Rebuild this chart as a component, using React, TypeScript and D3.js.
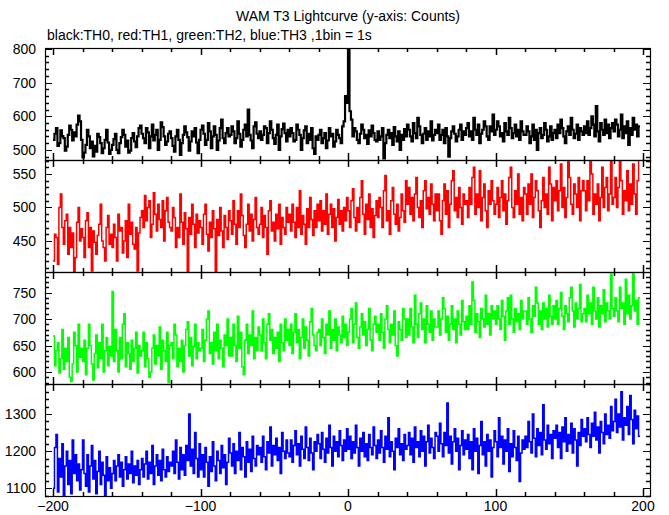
import React from "react";
import * as d3 from "d3";

const title = "WAM T3 Lightcurve (y-axis: Counts)";
const subtitle = "black:TH0, red:TH1, green:TH2, blue:TH3 ,1bin = 1s";
const startTime = -200;
const xTickValues = [-200, -100, 0, 100, 200];

const th0 = [
530,548,565,512,520,558,541,535,498,510,545,572,560,528,552,540,575,602,585,530,
478,492,515,560,540,505,525,481,512,495,548,538,520,490,505,530,560,522,488,500,
515,532,548,500,490,520,538,560,545,510,528,492,498,535,550,525,508,540,565,572,
548,535,520,565,552,505,540,575,528,545,560,500,530,582,568,540,515,525,548,555,
535,512,495,540,560,530,485,520,545,570,552,538,498,525,555,540,565,522,490,530,
560,572,548,515,530,580,555,505,540,570,545,500,528,565,590,535,520,550,565,540,
545,570,555,520,535,585,548,510,530,560,575,540,620,545,528,505,570,582,548,535,
555,530,545,570,565,520,550,585,560,535,518,545,575,500,540,562,578,550,525,560,
540,565,550,525,530,575,560,545,500,535,558,570,520,548,530,565,505,488,540,530,
545,560,520,535,550,505,528,565,540,548,510,525,560,545,535,520,570,585,660,640,
820,615,590,540,565,555,530,520,548,575,560,535,545,518,558,540,572,550,530,525,
555,530,540,565,475,520,545,560,535,550,515,568,540,525,555,500,545,530,562,540,
575,560,540,525,580,550,535,595,570,545,520,548,565,530,555,540,585,528,545,560,
550,575,530,545,560,520,565,540,480,535,555,570,548,525,540,560,575,530,555,545,
565,580,540,555,530,595,560,545,575,520,548,560,585,570,540,530,570,555,605,545,
560,585,570,540,550,525,580,555,545,595,565,535,550,575,540,560,530,585,555,545,
545,570,555,520,540,575,530,560,500,550,565,535,545,580,560,525,540,570,530,550,
560,535,575,550,590,565,540,520,555,570,545,595,560,535,548,575,530,565,555,545,
570,550,585,545,565,600,575,540,630,555,525,580,560,545,590,550,575,535,565,580,
555,590,575,540,560,605,535,570,550,585,515,565,545,595,560,575,540,570
];

const th1 = [
420,460,455,415,500,520,470,445,480,490,430,470,440,462,398,425,478,500,450,468,
455,425,480,492,440,470,405,465,448,430,458,475,505,450,440,420,470,488,445,460,
440,475,455,420,490,465,470,432,450,480,425,505,460,478,445,438,470,405,462,485,
495,470,518,480,500,510,455,475,522,490,465,505,482,470,510,450,495,515,478,470,
465,500,485,440,470,455,520,478,445,492,468,398,485,460,505,475,440,490,462,480,
470,445,490,505,460,435,478,455,495,468,398,482,458,500,465,440,488,470,452,495,
480,460,510,475,445,495,470,520,488,458,440,475,505,465,490,450,482,515,470,460,
475,500,455,488,470,430,495,510,465,478,450,490,468,505,445,485,470,460,500,478,
490,465,505,478,455,500,470,525,460,488,475,445,498,470,515,482,458,495,470,505,
480,510,465,495,475,520,460,490,505,470,498,450,485,512,475,495,465,500,480,515,
495,470,510,528,485,465,500,478,515,540,490,460,505,482,520,470,498,455,488,510,
485,515,500,470,525,548,480,495,460,510,530,490,475,505,465,485,520,495,478,540,
505,530,490,515,480,520,545,500,485,510,470,525,540,498,515,490,535,505,480,520,
495,520,480,460,510,535,490,525,470,505,540,555,495,515,485,530,500,475,520,505,
510,485,530,505,545,560,490,520,500,555,480,515,535,495,470,525,505,540,510,490,
505,530,485,515,540,495,520,475,510,545,560,500,485,525,505,550,490,515,480,530,
520,490,535,505,550,485,515,540,525,495,470,510,545,500,520,490,560,535,480,530,
510,540,495,525,565,500,530,485,515,575,545,505,490,535,520,500,545,480,525,540,
525,495,540,510,575,550,490,520,505,535,480,515,560,500,530,545,495,520,575,505,
515,545,500,530,575,540,490,525,510,555,495,535,505,565,520,490,540,575
];

const th2 = [
668,612,640,655,598,625,680,605,645,620,665,590,582,615,675,650,600,690,628,645,
620,660,595,645,690,650,615,585,635,670,608,655,625,690,600,640,665,612,648,630,
752,620,680,640,600,665,625,690,710,610,655,635,605,660,620,645,675,598,650,630,
640,675,610,655,625,590,600,645,670,615,650,630,685,605,660,640,620,675,580,650,
655,625,690,670,610,645,620,660,600,650,680,695,630,665,612,648,690,625,655,640,
645,680,620,660,700,715,635,655,615,675,640,690,625,660,645,610,670,650,700,630,
665,630,690,650,620,705,645,675,610,595,660,690,635,670,650,715,625,665,640,685,
670,640,700,655,625,690,710,660,680,635,665,645,675,620,690,655,640,700,660,680,
650,690,635,675,710,655,680,625,665,700,645,685,660,630,695,720,670,650,640,675,
680,650,700,665,635,690,670,715,645,680,660,700,640,685,670,655,705,665,690,650,
675,700,720,655,690,730,665,645,685,710,670,695,650,680,720,660,640,690,705,675,
690,660,710,675,645,700,725,680,655,690,670,715,650,630,695,680,660,720,700,665,
700,670,720,685,655,745,690,665,710,730,680,700,655,725,690,675,715,660,700,685,
685,715,670,700,740,720,675,705,660,690,725,680,700,655,715,690,670,735,695,680,
705,680,725,690,770,735,675,710,695,665,720,700,685,745,690,710,670,725,700,715,
690,725,700,680,735,705,660,715,740,690,745,700,675,720,695,710,680,735,700,715,
715,690,740,700,675,725,705,760,730,690,715,680,730,700,720,685,745,705,690,725,
700,735,690,720,750,705,680,725,710,695,740,760,715,685,730,700,720,765,695,710,
720,695,745,710,730,690,760,715,700,740,685,725,710,755,695,730,715,700,785,720,
705,740,715,695,760,720,730,690,775,710,745,700,725,790,715,735,690,740
];

const th3 = [
1100,1210,1245,1090,1180,1130,1220,1080,1160,1200,1110,1175,1085,1230,1140,1190,1120,1165,1095,1150,
1230,1140,1105,1190,1090,1160,1215,1125,1175,1085,1145,1200,1110,1170,1135,1080,1185,1120,1155,1100,
1140,1175,1120,1160,1190,1130,1170,1105,1150,1185,1125,1165,1140,1200,1115,1160,1135,1175,1110,1150,
1180,1130,1165,1200,1125,1170,1140,1215,1110,1160,1190,1135,1175,1120,1205,1150,1130,1185,1145,1170,
1160,1200,1140,1230,1170,1125,1210,1150,1190,1135,1215,1175,1300,1160,1205,1140,1250,1180,1130,1220,
1150,1190,1130,1210,1170,1105,1185,1145,1225,1160,1120,1200,1175,1140,1215,1155,1190,1110,1170,1235,
1195,1160,1220,1140,1200,1175,1250,1150,1210,1185,1130,1225,1170,1205,1145,1240,1180,1160,1215,1190,
1210,1170,1240,1185,1150,1225,1195,1265,1160,1215,1190,1235,1175,1210,1140,1250,1200,1180,1230,1195,
1185,1230,1170,1215,1255,1190,1220,1160,1240,1205,1180,1265,1210,1175,1235,1195,1150,1225,1200,1245,
1220,1180,1250,1205,1170,1235,1195,1270,1210,1160,1240,1200,1225,1185,1255,1215,1175,1230,1200,1260,
1205,1240,1180,1225,1195,1270,1210,1160,1235,1200,1250,1185,1220,1175,1245,1210,1190,1265,1215,1180,
1230,1195,1255,1210,1170,1240,1205,1290,1185,1225,1200,1150,1235,1210,1260,1190,1220,1175,1245,1205,
1215,1250,1190,1235,1170,1265,1210,1225,1185,1255,1200,1240,1160,1225,1270,1195,1235,1210,1180,1250,
1240,1200,1275,1220,1185,1250,1215,1330,1195,1240,1165,1225,1260,1200,1235,1150,1215,1255,1190,1230,
1205,1245,1180,1225,1150,1260,1200,1235,1140,1215,1280,1190,1225,1160,1245,1200,1230,1130,1210,1255,
1225,1185,1290,1210,1240,1165,1230,1200,1260,1145,1220,1185,1255,1210,1175,1240,1118,1195,1230,1205,
1240,1210,1280,1225,1195,1300,1235,1185,1260,1215,1250,1190,1325,1230,1205,1270,1220,1245,1180,1255,
1235,1270,1210,1250,1180,1265,1225,1290,1200,1245,1220,1275,1195,1260,1230,1160,1250,1215,1285,1240,
1260,1225,1290,1245,1210,1275,1240,1305,1230,1265,1195,1280,1250,1220,1300,1245,1270,1235,1320,1255,
1280,1340,1250,1300,1265,1360,1230,1290,1270,1320,1245,1350,1285,1220,1310,1260,1295,1240
];

const panelSeries = [th0, th1, th2, th3];
const panelColors = ["#000000", "#ff0000", "#00ff00", "#0000ff"];
const panelDomains: [number, number][] = [[470, 803], [403.5, 571], [577.4, 788.7], [1079, 1381]];
const panelMajor = [100, 50, 50, 100];
const panelMinor = [20, 10, 10, 20];
const panelLabels = [[500, 600, 700, 800], [450, 500, 550], [600, 650, 700, 750], [1100, 1200, 1300]];

const W = 669, H = 515;
const left = 45, right = 650;
const panelTops = [48, 160, 272, 384];
const panelH = 112;
const font = "'Liberation Sans', Arial, Helvetica, sans-serif";

const fmt = (v: number) => (v < 0 ? "\u2212" + Math.abs(v) : String(v));

export default function App() {
  const x = d3.scaleLinear().domain([-200, 200]).range([53, 643]);
  const xMinor = d3.range(-200, 201, 20);

  return (
    <svg width={W} height={H} style={{ position: "absolute", left: 0, top: 0, background: "#fff" }}>
      <rect x={0} y={0} width={W} height={H} fill="#fff" />
      <text x={348} y={21} textAnchor="middle" fontFamily={font} fontSize={14}>{title}</text>
      <text x={47} y={40} fontFamily={font} fontSize={14}>{subtitle}</text>
      {panelSeries.map((data, p) => {
        const top = panelTops[p];
        const bottom = top + panelH;
        const y = d3.scaleLinear().domain(panelDomains[p]).range([bottom, top]);
        const pts: [number, number][] = data.map((v, i) => [startTime + i, v]);
        pts.push([startTime + data.length, data[data.length - 1]]);
        const line = d3.line<[number, number]>()
          .x(d => x(d[0]))
          .y(d => y(d[1]))
          .curve(d3.curveStepAfter);
        const [lo, hi] = panelDomains[p];
        const yMinor = d3.range(Math.ceil(lo / panelMinor[p]) * panelMinor[p], hi, panelMinor[p]);
        const clipId = `clip${p}`;
        return (
          <g key={p}>
            <defs>
              <clipPath id={clipId}>
                <rect x={left} y={top} width={right - left} height={panelH} />
              </clipPath>
            </defs>
            <path d={line(pts) || ""} fill="none" stroke={panelColors[p]}
              strokeWidth={p === 0 ? 2.2 : 1.5}
              clipPath={`url(#${clipId})`} />
            {yMinor.map(v => {
              const major = Math.abs(v % panelMajor[p]) < 1e-6;
              const len = major ? 7 : 4;
              const yy = Math.round(y(v)) + 0.5;
              return (
                <g key={v}>
                  <line x1={left} x2={left + len} y1={yy} y2={yy} stroke="#000" strokeWidth={major ? 1 : 1.5} />
                  <line x1={right} x2={right - len} y1={yy} y2={yy} stroke="#000" strokeWidth={major ? 1 : 1.5} />
                </g>
              );
            })}
            {xMinor.map(v => {
              const major = v % 100 === 0;
              const len = major ? 7 : 4;
              const xx = Math.round(x(v)) + 0.5;
              return (
                <g key={v}>
                  <line x1={xx} x2={xx} y1={top} y2={top + len} stroke="#000" strokeWidth={1.5} />
                  <line x1={xx} x2={xx} y1={bottom} y2={bottom - len} stroke="#000" strokeWidth={1.5} />
                </g>
              );
            })}
            <rect x={left + 0.5} y={top + 0.5} width={right - left} height={panelH} fill="none" stroke="#000" strokeWidth={1.2} />
            {panelLabels[p].map(v => (
              <text key={v} x={36} y={y(v) + 5} textAnchor="end" fontFamily={font} fontSize={14}>{v}</text>
            ))}
          </g>
        );
      })}
      {xTickValues.map(v => (
        <text key={v} x={x(v)} y={511} textAnchor="middle" fontFamily={font} fontSize={14}>{fmt(v)}</text>
      ))}
    </svg>
  );
}
